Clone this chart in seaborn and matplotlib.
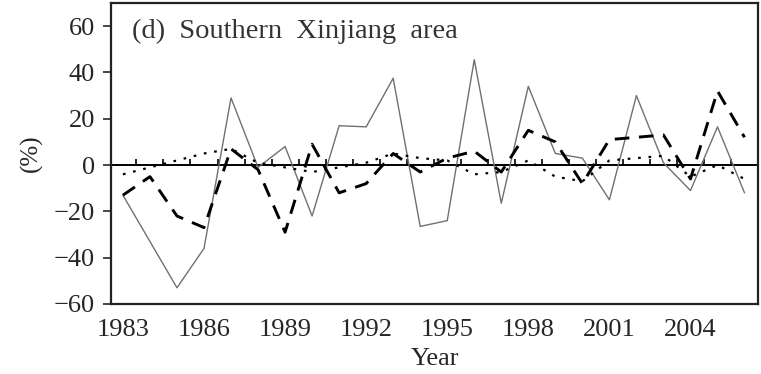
import numpy as np
import pandas as pd
import matplotlib
matplotlib.use("Agg")
import matplotlib.pyplot as plt
import seaborn as sns

years = list(range(1983, 2007))
solid_vals = [-13, -33, -53, -36, 29, -1, 8, -22, 17, 16.5, 37.5, -26.5,
              -24, 45.5, -16.5, 34, 5, 3, -15, 30, 1, -11, 16.5, -12]
dashed_vals = [-13, -5, -22, -27, 7, -2, -29, 9, -12, -8, 5, -3,
               3, 6, -3, 15, 10, -8, 11, 12, 13, -6, 32, 12]
dotted_vals = [-4, -1, 2, 5, 7, 1, -1, -3, -1, 1, 5, 3,
               2, -4, -3, 2, -5, -7, 2, 3, 4, -5, 0, -6]
y_ticks = [-60, -40, -20, 0, 20, 40, 60]
x_ticks = [1983, 1986, 1989, 1992, 1995, 1998, 2001, 2004]
title_text = "(d)  Southern  Xinjiang  area"

sns.set_theme(style="white")
plt.rcParams['font.family'] = ['Liberation Serif', 'DejaVu Serif']

df = pd.DataFrame({"Year": years, "solid": solid_vals,
                   "dashed": dashed_vals, "dotted": dotted_vals})

fig = plt.figure(figsize=(7.61, 3.74), dpi=100)
ax = fig.add_axes([0.1459, 0.1872, 0.9961 - 0.1459, 0.992 - 0.1872])

ax.axhline(0, color="black", lw=1.4, zorder=1)
ax.vlines(np.arange(years[0] + 0.5, years[-1], 1), 0, 2.6, color="black", lw=1.2, zorder=1)

sns.lineplot(data=df, x="Year", y="solid", ax=ax, color="#707070", lw=1.0, zorder=2)
sns.lineplot(data=df, x="Year", y="dotted", ax=ax, color="black", lw=1.6,
             zorder=3).lines[-1].set_dashes((1.2, 3.5))
sns.lineplot(data=df, x="Year", y="dashed", ax=ax, color="black", lw=2.1,
             zorder=4).lines[-1].set_dashes((5.0, 3.3))

ax.set_xlim(1982.56, 2006.5)
ax.set_ylim(-60, 70)
ax.set_xticks(x_ticks)
ax.set_yticks(y_ticks)
ax.set_yticklabels([("\u2212%d" % -v if v < 0 else str(v)) for v in y_ticks])
ax.tick_params(axis="x", length=0, pad=11, labelsize=19)
ax.tick_params(axis="y", length=5.5, width=1.2, direction="out", pad=6, labelsize=19, left=True)
for s in ax.spines.values():
    s.set_color("#222222")
    s.set_linewidth(1.6)
ax.set_xlabel("Year", fontsize=19, labelpad=5)
ax.set_ylabel("(%)", fontsize=18, labelpad=8)
ax.text(0.032, 0.905, title_text, transform=ax.transAxes, fontsize=20.5,
        color="#333333", va="center", ha="left")

fig.savefig("out.png", dpi=100)
